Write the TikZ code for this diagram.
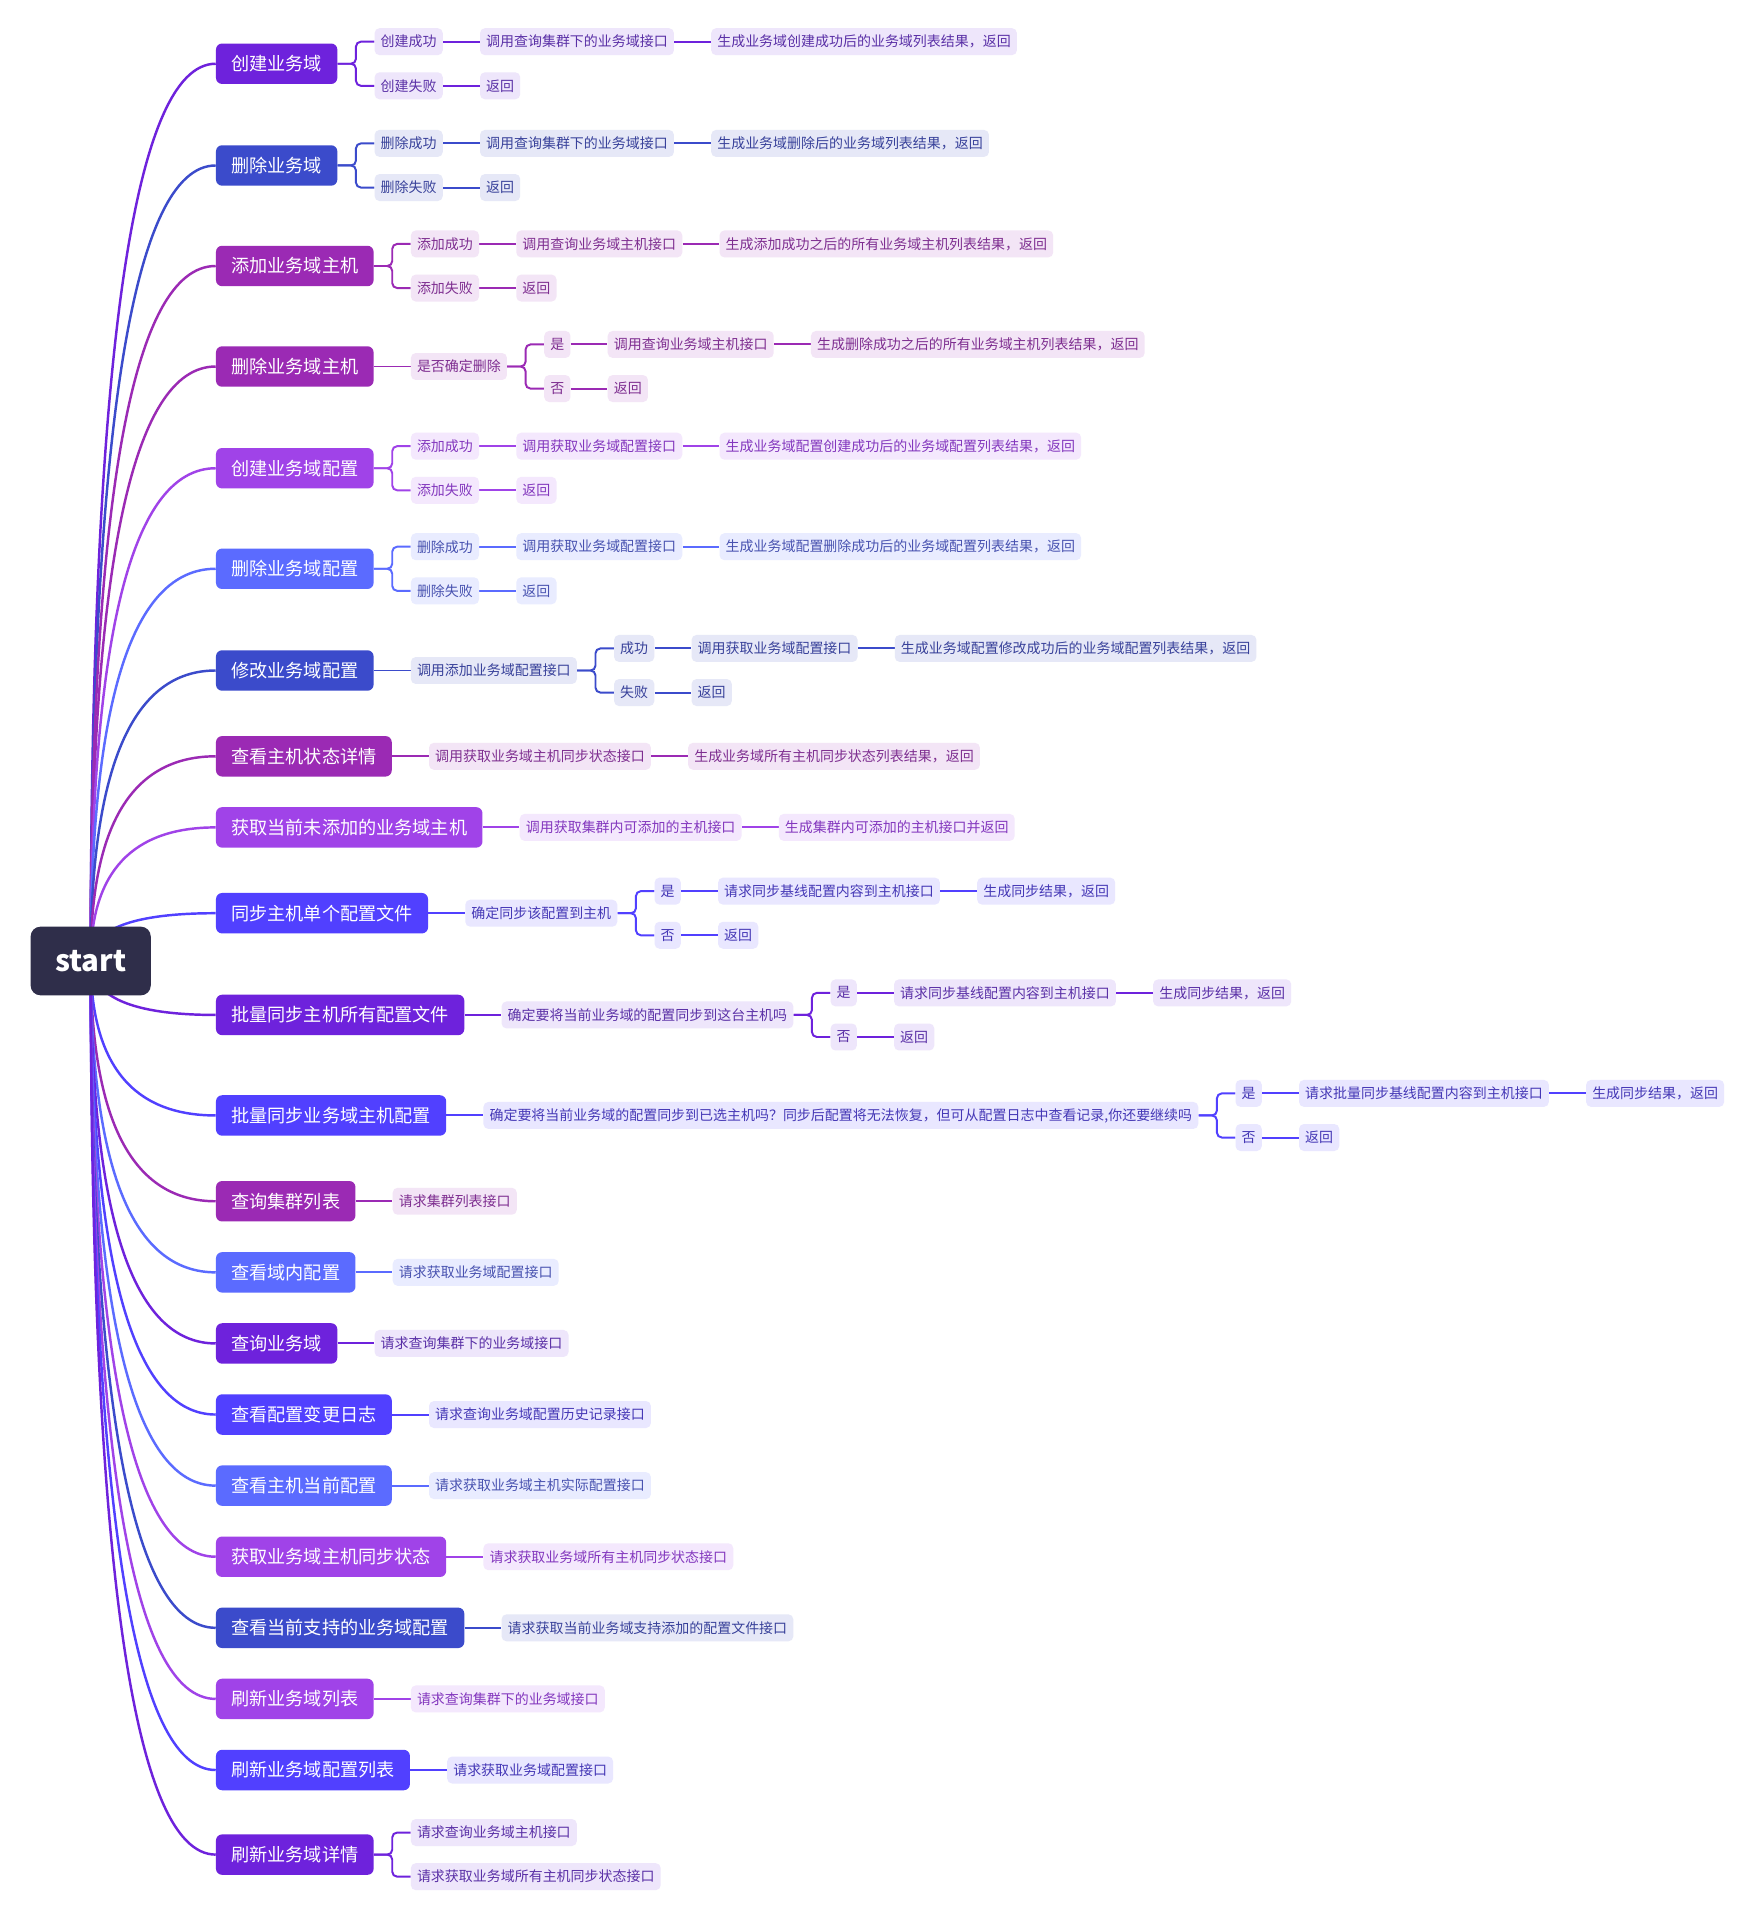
\documentclass[tikz,border=0pt]{standalone}
\usepackage{fontspec}
\usetikzlibrary{calc,positioning}
\newfontfamily\cjk{Noto Sans CJK SC}

% branch palettes: M = topic fill / wire, T = leaf fill, X = leaf text
\definecolor{vioM}{HTML}{6E22DC}\definecolor{vioT}{HTML}{EEE6FB}\definecolor{vioX}{HTML}{5A30A6}
\definecolor{royM}{HTML}{3B4BCB}\definecolor{royT}{HTML}{E6E8F7}\definecolor{royX}{HTML}{38419A}
\definecolor{magM}{HTML}{9B2AB4}\definecolor{magT}{HTML}{F3E5F6}\definecolor{magX}{HTML}{7E2E90}
\definecolor{lpuM}{HTML}{A043E8}\definecolor{lpuT}{HTML}{F4E8FD}\definecolor{lpuX}{HTML}{8337BE}
\definecolor{perM}{HTML}{5B6BFF}\definecolor{perT}{HTML}{E9ECFF}\definecolor{perX}{HTML}{4852B0}
\definecolor{bviM}{HTML}{5140FF}\definecolor{bviT}{HTML}{E9E7FF}\definecolor{bviX}{HTML}{4538B6}
\definecolor{rootC}{HTML}{2F2E4A}

\pgfdeclarelayer{paper}
\pgfdeclarelayer{wires}
\pgfsetlayers{paper,wires,main}

\tikzset{
  rootbox/.style={fill=rootC, text=white, rounded corners=8pt, minimum width=98pt,
    minimum height=56pt, inner sep=0pt, font=\cjk\bfseries\fontsize{24pt}{28pt}\selectfont},
  topic/.style={fill=#1M, text=white, rounded corners=5pt, minimum height=33pt,
    inner xsep=12.5pt, inner ysep=0pt, anchor=west,
    font=\cjk\fontsize{14.8pt}{17pt}\selectfont},
  leaf/.style={fill=#1T, text=#1X, rounded corners=4pt, minimum height=22pt,
    inner xsep=5pt, inner ysep=0pt, anchor=west,
    font=\cjk\fontsize{11.4pt}{13pt}\selectfont},
  wire/.style={draw=#1M, line width=1.6pt, rounded corners=4pt},
  curve/.style={draw=#1M, line width=2pt},
}

% connectors
\newcommand\brstem[2]{\begin{pgfonlayer}{wires}\draw[curve=#1] (root.center)
  .. controls ($(root.center)!0.667!(root.center |- #2.west)$)
  and ($(#2.west)!0.667!(root.center |- #2.west)$) .. (#2.west);\end{pgfonlayer}}
\newcommand\brlink[3]{\begin{pgfonlayer}{wires}\draw[wire=#1] (#2.east) -- (#3.west);\end{pgfonlayer}}
\newcommand\brelbow[3]{\begin{pgfonlayer}{wires}\draw[wire=#1] (#2.east)
  -- ($(#2.east)!0.5!(#2.east -| #3.west)$) |- (#3.west);\end{pgfonlayer}}

\begin{document}
\begin{tikzpicture}[x=1pt,y=1pt]
\begin{pgfonlayer}{paper}
\fill[white] (0,0) rectangle (1431,-1568);
\end{pgfonlayer}
\useasboundingbox (0,0) rectangle (1431,-1568);

\node[rootbox] (root) at (74,-784) {start};

% ---- topics
\node[topic=vio] (t1)  at (176,-52)   {创建业务域};
\node[topic=roy] (t2)  at (176,-135)  {删除业务域};
\node[topic=mag] (t3)  at (176,-217)  {添加业务域主机};
\node[topic=mag] (t4)  at (176,-299)  {删除业务域主机};
\node[topic=lpu] (t5)  at (176,-382)  {创建业务域配置};
\node[topic=per] (t6)  at (176,-464)  {删除业务域配置};
\node[topic=roy] (t7)  at (176,-547)  {修改业务域配置};
\node[topic=mag] (t8)  at (176,-617)  {查看主机状态详情};
\node[topic=lpu] (t9)  at (176,-675)  {获取当前未添加的业务域主机};
\node[topic=bvi] (t10) at (176,-745)  {同步主机单个配置文件};
\node[topic=vio] (t11) at (176,-828)  {批量同步主机所有配置文件};
\node[topic=bvi] (t12) at (176,-910)  {批量同步业务域主机配置};
\node[topic=mag] (t13) at (176,-980)  {查询集群列表};
\node[topic=per] (t14) at (176,-1038) {查看域内配置};
\node[topic=vio] (t15) at (176,-1096) {查询业务域};
\node[topic=bvi] (t16) at (176,-1154) {查看配置变更日志};
\node[topic=per] (t17) at (176,-1212) {查看主机当前配置};
\node[topic=lpu] (t18) at (176,-1270) {获取业务域主机同步状态};
\node[topic=roy] (t19) at (176,-1328) {查看当前支持的业务域配置};
\node[topic=lpu] (t20) at (176,-1386) {刷新业务域列表};
\node[topic=bvi] (t21) at (176,-1444) {刷新业务域配置列表};
\node[topic=vio] (t22) at (176,-1513) {刷新业务域详情};

\brstem{vio}{t1}\brstem{roy}{t2}\brstem{mag}{t3}\brstem{mag}{t4}
\brstem{lpu}{t5}\brstem{per}{t6}\brstem{roy}{t7}\brstem{mag}{t8}
\brstem{lpu}{t9}\brstem{bvi}{t10}\brstem{vio}{t11}\brstem{bvi}{t12}
\brstem{mag}{t13}\brstem{per}{t14}\brstem{vio}{t15}\brstem{bvi}{t16}
\brstem{per}{t17}\brstem{lpu}{t18}\brstem{roy}{t19}\brstem{lpu}{t20}
\brstem{bvi}{t21}\brstem{vio}{t22}

% ---- 1 创建业务域
\node[leaf=vio] (a1) at ($(t1.east)+(30,18)$) {创建成功};
\node[leaf=vio, right=30pt of a1] (a2) {调用查询集群下的业务域接口};
\node[leaf=vio, right=30pt of a2] (a3) {生成业务域创建成功后的业务域列表结果，返回};
\node[leaf=vio] (a4) at ($(t1.east)+(30,-18)$) {创建失败};
\node[leaf=vio, right=30pt of a4] (a5) {返回};
\brelbow{vio}{t1}{a1}\brelbow{vio}{t1}{a4}
\brlink{vio}{a1}{a2}\brlink{vio}{a2}{a3}\brlink{vio}{a4}{a5}

% ---- 2 删除业务域
\node[leaf=roy] (b1) at ($(t2.east)+(30,18)$) {删除成功};
\node[leaf=roy, right=30pt of b1] (b2) {调用查询集群下的业务域接口};
\node[leaf=roy, right=30pt of b2] (b3) {生成业务域删除后的业务域列表结果，返回};
\node[leaf=roy] (b4) at ($(t2.east)+(30,-18)$) {删除失败};
\node[leaf=roy, right=30pt of b4] (b5) {返回};
\brelbow{roy}{t2}{b1}\brelbow{roy}{t2}{b4}
\brlink{roy}{b1}{b2}\brlink{roy}{b2}{b3}\brlink{roy}{b4}{b5}

% ---- 3 添加业务域主机
\node[leaf=mag] (c1) at ($(t3.east)+(30,18)$) {添加成功};
\node[leaf=mag, right=30pt of c1] (c2) {调用查询业务域主机接口};
\node[leaf=mag, right=30pt of c2] (c3) {生成添加成功之后的所有业务域主机列表结果，返回};
\node[leaf=mag] (c4) at ($(t3.east)+(30,-18)$) {添加失败};
\node[leaf=mag, right=30pt of c4] (c5) {返回};
\brelbow{mag}{t3}{c1}\brelbow{mag}{t3}{c4}
\brlink{mag}{c1}{c2}\brlink{mag}{c2}{c3}\brlink{mag}{c4}{c5}

% ---- 4 删除业务域主机
\node[leaf=mag, right=30pt of t4] (d0) {是否确定删除};
\node[leaf=mag] (d1) at ($(d0.east)+(30,18)$) {是};
\node[leaf=mag, right=30pt of d1] (d2) {调用查询业务域主机接口};
\node[leaf=mag, right=30pt of d2] (d3) {生成删除成功之后的所有业务域主机列表结果，返回};
\node[leaf=mag] (d4) at ($(d0.east)+(30,-18)$) {否};
\node[leaf=mag, right=30pt of d4] (d5) {返回};
\brlink{mag}{t4}{d0}\brelbow{mag}{d0}{d1}\brelbow{mag}{d0}{d4}
\brlink{mag}{d1}{d2}\brlink{mag}{d2}{d3}\brlink{mag}{d4}{d5}

% ---- 5 创建业务域配置
\node[leaf=lpu] (e1) at ($(t5.east)+(30,18)$) {添加成功};
\node[leaf=lpu, right=30pt of e1] (e2) {调用获取业务域配置接口};
\node[leaf=lpu, right=30pt of e2] (e3) {生成业务域配置创建成功后的业务域配置列表结果，返回};
\node[leaf=lpu] (e4) at ($(t5.east)+(30,-18)$) {添加失败};
\node[leaf=lpu, right=30pt of e4] (e5) {返回};
\brelbow{lpu}{t5}{e1}\brelbow{lpu}{t5}{e4}
\brlink{lpu}{e1}{e2}\brlink{lpu}{e2}{e3}\brlink{lpu}{e4}{e5}

% ---- 6 删除业务域配置
\node[leaf=per] (f1) at ($(t6.east)+(30,18)$) {删除成功};
\node[leaf=per, right=30pt of f1] (f2) {调用获取业务域配置接口};
\node[leaf=per, right=30pt of f2] (f3) {生成业务域配置删除成功后的业务域配置列表结果，返回};
\node[leaf=per] (f4) at ($(t6.east)+(30,-18)$) {删除失败};
\node[leaf=per, right=30pt of f4] (f5) {返回};
\brelbow{per}{t6}{f1}\brelbow{per}{t6}{f4}
\brlink{per}{f1}{f2}\brlink{per}{f2}{f3}\brlink{per}{f4}{f5}

% ---- 7 修改业务域配置
\node[leaf=roy, right=30pt of t7] (g0) {调用添加业务域配置接口};
\node[leaf=roy] (g1) at ($(g0.east)+(30,18)$) {成功};
\node[leaf=roy, right=30pt of g1] (g2) {调用获取业务域配置接口};
\node[leaf=roy, right=30pt of g2] (g3) {生成业务域配置修改成功后的业务域配置列表结果，返回};
\node[leaf=roy] (g4) at ($(g0.east)+(30,-18)$) {失败};
\node[leaf=roy, right=30pt of g4] (g5) {返回};
\brlink{roy}{t7}{g0}\brelbow{roy}{g0}{g1}\brelbow{roy}{g0}{g4}
\brlink{roy}{g1}{g2}\brlink{roy}{g2}{g3}\brlink{roy}{g4}{g5}

% ---- 8 查看主机状态详情
\node[leaf=mag, right=30pt of t8] (h1) {调用获取业务域主机同步状态接口};
\node[leaf=mag, right=30pt of h1] (h2) {生成业务域所有主机同步状态列表结果，返回};
\brlink{mag}{t8}{h1}\brlink{mag}{h1}{h2}

% ---- 9 获取当前未添加的业务域主机
\node[leaf=lpu, right=30pt of t9] (i1) {调用获取集群内可添加的主机接口};
\node[leaf=lpu, right=30pt of i1] (i2) {生成集群内可添加的主机接口并返回};
\brlink{lpu}{t9}{i1}\brlink{lpu}{i1}{i2}

% ---- 10 同步主机单个配置文件
\node[leaf=bvi, right=30pt of t10] (j0) {确定同步该配置到主机};
\node[leaf=bvi] (j1) at ($(j0.east)+(30,18)$) {是};
\node[leaf=bvi, right=30pt of j1] (j2) {请求同步基线配置内容到主机接口};
\node[leaf=bvi, right=30pt of j2] (j3) {生成同步结果，返回};
\node[leaf=bvi] (j4) at ($(j0.east)+(30,-18)$) {否};
\node[leaf=bvi, right=30pt of j4] (j5) {返回};
\brlink{bvi}{t10}{j0}\brelbow{bvi}{j0}{j1}\brelbow{bvi}{j0}{j4}
\brlink{bvi}{j1}{j2}\brlink{bvi}{j2}{j3}\brlink{bvi}{j4}{j5}

% ---- 11 批量同步主机所有配置文件
\node[leaf=vio, right=30pt of t11] (k0) {确定要将当前业务域的配置同步到这台主机吗};
\node[leaf=vio] (k1) at ($(k0.east)+(30,18)$) {是};
\node[leaf=vio, right=30pt of k1] (k2) {请求同步基线配置内容到主机接口};
\node[leaf=vio, right=30pt of k2] (k3) {生成同步结果，返回};
\node[leaf=vio] (k4) at ($(k0.east)+(30,-18)$) {否};
\node[leaf=vio, right=30pt of k4] (k5) {返回};
\brlink{vio}{t11}{k0}\brelbow{vio}{k0}{k1}\brelbow{vio}{k0}{k4}
\brlink{vio}{k1}{k2}\brlink{vio}{k2}{k3}\brlink{vio}{k4}{k5}

% ---- 12 批量同步业务域主机配置
\node[leaf=bvi, right=30pt of t12] (l0) {确定要将当前业务域的配置同步到已选主机吗？同步后配置将无法恢复，但可从配置日志中查看记录,你还要继续吗};
\node[leaf=bvi] (l1) at ($(l0.east)+(30,18)$) {是};
\node[leaf=bvi, right=30pt of l1] (l2) {请求批量同步基线配置内容到主机接口};
\node[leaf=bvi, right=30pt of l2] (l3) {生成同步结果，返回};
\node[leaf=bvi] (l4) at ($(l0.east)+(30,-18)$) {否};
\node[leaf=bvi, right=30pt of l4] (l5) {返回};
\brlink{bvi}{t12}{l0}\brelbow{bvi}{l0}{l1}\brelbow{bvi}{l0}{l4}
\brlink{bvi}{l1}{l2}\brlink{bvi}{l2}{l3}\brlink{bvi}{l4}{l5}

% ---- 13 .. 21 single requests
\node[leaf=mag, right=30pt of t13] (m1) {请求集群列表接口};
\node[leaf=per, right=30pt of t14] (n1) {请求获取业务域配置接口};
\node[leaf=vio, right=30pt of t15] (o1) {请求查询集群下的业务域接口};
\node[leaf=bvi, right=30pt of t16] (p1) {请求查询业务域配置历史记录接口};
\node[leaf=per, right=30pt of t17] (q1) {请求获取业务域主机实际配置接口};
\node[leaf=lpu, right=30pt of t18] (r1) {请求获取业务域所有主机同步状态接口};
\node[leaf=roy, right=30pt of t19] (s1) {请求获取当前业务域支持添加的配置文件接口};
\node[leaf=lpu, right=30pt of t20] (u1) {请求查询集群下的业务域接口};
\node[leaf=bvi, right=30pt of t21] (v1) {请求获取业务域配置接口};
\brlink{mag}{t13}{m1}\brlink{per}{t14}{n1}\brlink{vio}{t15}{o1}
\brlink{bvi}{t16}{p1}\brlink{per}{t17}{q1}\brlink{lpu}{t18}{r1}
\brlink{roy}{t19}{s1}\brlink{lpu}{t20}{u1}\brlink{bvi}{t21}{v1}

% ---- 22 刷新业务域详情
\node[leaf=vio] (w1) at ($(t22.east)+(30,18)$) {请求查询业务域主机接口};
\node[leaf=vio] (w2) at ($(t22.east)+(30,-18)$) {请求获取业务域所有主机同步状态接口};
\brelbow{vio}{t22}{w1}\brelbow{vio}{t22}{w2}
\end{tikzpicture}
\end{document}
